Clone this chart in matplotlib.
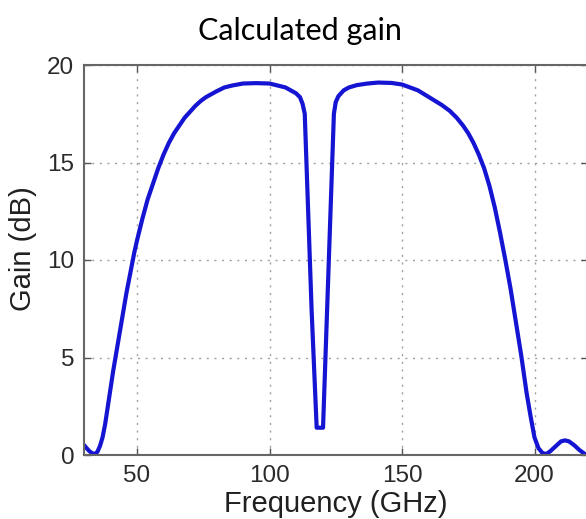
import matplotlib
matplotlib.use("Agg")
import matplotlib.pyplot as plt

# Data
freq_ghz = [30, 31, 32, 33, 34, 35, 36, 37, 38, 39, 40, 41, 42, 43, 44, 45, 46, 47,
            48, 49, 50, 52, 54, 56, 58, 60, 62, 64, 66, 68, 70, 72, 74, 76, 78, 80,
            83, 86, 90, 95, 100, 103, 106, 108, 110, 111.5, 112.5, 113.3, 115.9,
            117.8, 120.2, 124.3, 125, 126, 128, 130, 133, 137, 141, 146, 150, 153,
            156, 159, 162, 165, 168, 170.6, 173, 175, 177, 179, 181, 183, 185, 187,
            189, 191, 193, 195, 197, 198.5, 200, 201.5, 203, 204.5, 206, 208, 210,
            211.5, 213, 215, 217, 219.5, 220]
gain_db = [0.51, 0.35, 0.2, 0.1, 0.05, 0.15, 0.45, 0.9, 1.6, 2.5, 3.4, 4.3, 5.1,
           5.9, 6.7, 7.5, 8.3, 9.0, 9.7, 10.4, 11.0, 12.1, 13.1, 13.9, 14.7, 15.4,
           16.0, 16.5, 16.9, 17.3, 17.6, 17.9, 18.15, 18.35, 18.5, 18.65, 18.85,
           18.95, 19.05, 19.07, 19.05, 18.95, 18.85, 18.7, 18.55, 18.35, 18.0, 17.5,
           7.4, 1.4, 1.4, 17.5, 18.1, 18.4, 18.7, 18.85, 18.97, 19.05, 19.1, 19.08,
           19.0, 18.85, 18.7, 18.45, 18.2, 17.95, 17.65, 17.3, 16.9, 16.5, 16.0,
           15.4, 14.7, 13.8, 12.7, 11.4, 10.0, 8.5, 6.8, 5.1, 3.2, 2.0, 0.9, 0.35,
           0.1, 0.05, 0.2, 0.45, 0.7, 0.75, 0.7, 0.5, 0.25, 0.0, 0.0]
x_ticks = [50, 100, 150, 200]
y_ticks = [0, 5, 10, 15, 20]

W, H = 586, 519
fig = plt.figure(figsize=(W / 100, H / 100), dpi=100)
ax = fig.add_axes([84 / W, (H - 455) / H, (587.5 - 84) / W, (455 - 65) / H])

ax.plot(freq_ghz, gain_db, color="#1414d2", linewidth=3.0, solid_joinstyle="round",
        solid_capstyle="round")
ax.set_xlim(30, 220)
ax.set_ylim(0, 20)
ax.set_xticks(x_ticks)
ax.set_yticks(y_ticks)
ax.grid(True, linestyle=(0, (1.5, 4)), color="#a0a0a0", linewidth=1.0)

tick_font = dict(family=["Liberation Sans", "DejaVu Sans"], size=17.5)
ax.set_xticklabels([str(t) for t in x_ticks], fontdict=tick_font, color="#2a2a2a")
ax.set_yticklabels([str(t) for t in y_ticks], fontdict=tick_font, color="#2a2a2a")
ax.tick_params(direction="in", length=5, width=1, color="#555555", top=True,
               right=True, pad=7)

for s in ax.spines.values():
    s.set_color("#666666")
    s.set_linewidth(1.5)

ax.set_xlabel("Frequency (GHz)", family=["Liberation Sans", "DejaVu Sans"],
              size=21, color="#202020", labelpad=2)
ax.set_ylabel("Gain (dB)", family=["Liberation Sans", "DejaVu Sans"],
              size=21, color="#202020")
ax.yaxis.set_label_coords(-0.094, 0.53)

fig.text(300 / W, 1 - 31 / H, "Calculated gain", ha="center", va="center",
         family=["Lato", "DejaVu Sans"], size=22, color="#000000")

fig.savefig("out.png", dpi=100)
